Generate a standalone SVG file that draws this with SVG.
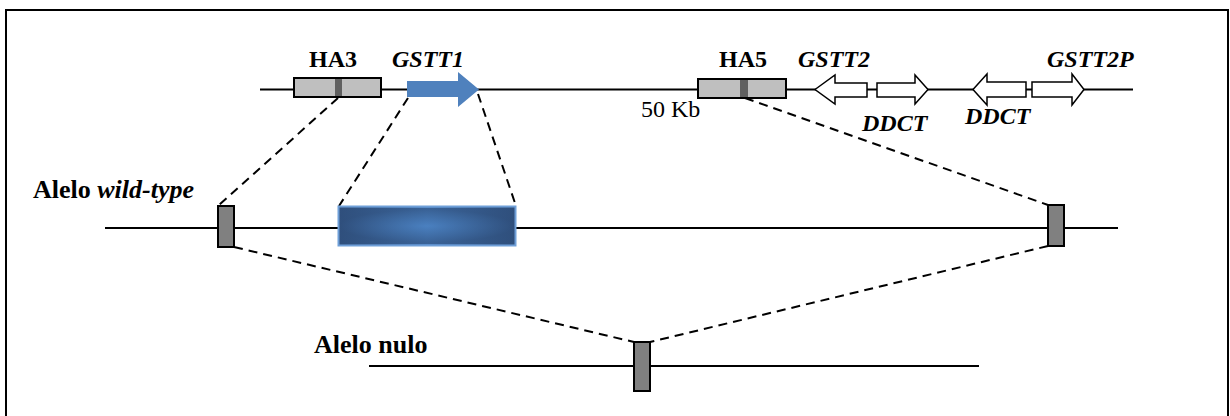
<svg xmlns="http://www.w3.org/2000/svg" width="1230" height="416" viewBox="0 0 1230 416">
<style>
.ln{stroke:#000;stroke-width:2;fill:none}
.dash{stroke:#000;stroke-width:2;fill:none;stroke-dasharray:9 6}
.ha{fill:#bfbfbf;stroke:#000;stroke-width:2}
.band{fill:#606060}
.sm{fill:#808080;stroke:#000;stroke-width:2}
.wa{fill:#fff;stroke:#000;stroke-width:1.5}
.lb{font-family:"Liberation Serif",serif;font-weight:bold;font-size:24px}
.it{font-style:italic}
.rg{font-family:"Liberation Serif",serif;font-size:24px}
.al{font-family:"Liberation Serif",serif;font-weight:bold;font-size:26px}
</style>
<defs>
<radialGradient id="bg" cx="0.5" cy="0.5" r="0.5" gradientTransform="translate(0.5 0.5) scale(1 0.9) translate(-0.5 -0.5)">
<stop offset="0" stop-color="#4a80c0"/>
<stop offset="1" stop-color="#2f4f7c"/>
</radialGradient>
<linearGradient id="bgx" x1="0" y1="0" x2="1" y2="0">
<stop offset="0" stop-color="#2f4f7c"/>
<stop offset="0.5" stop-color="#4a80c0"/>
<stop offset="1" stop-color="#2f4f7c"/>
</linearGradient>
</defs>
<rect x="6" y="10" width="1222" height="430" fill="#fff" stroke="#000" stroke-width="2"/>
<g id="connectors">
<line class="ln" x1="260" y1="89.5" x2="1133" y2="89.5"/>
<line class="ln" x1="105" y1="228" x2="1118" y2="228"/>
<line class="ln" x1="369" y1="366" x2="979" y2="366"/>
<line class="dash" x1="338" y1="98" x2="218" y2="206"/>
<line class="dash" x1="408" y1="98" x2="339" y2="206"/>
<line class="dash" x1="478" y1="94" x2="516" y2="206"/>
<line class="dash" x1="745" y1="98" x2="1048" y2="205"/>
<line class="dash" x1="234" y1="247" x2="634" y2="342"/>
<line class="dash" x1="1048" y1="246" x2="650" y2="342"/>
</g>
<g id="HA3">
<rect class="ha" x="294" y="78" width="87" height="19"/>
<rect class="band" x="335" y="79" width="7" height="17"/>
<text class="lb" x="309" y="67">HA3</text>
</g>
<g id="GSTT1">
<polygon points="407,81 458,81 458,72 479,89.5 458,107 458,97 407,97" fill="#4f81bd"/>
<text class="lb it" x="392" y="67">GSTT1</text>
</g>
<g id="HA5">
<rect class="ha" x="698" y="79" width="88" height="19"/>
<rect class="band" x="740" y="80" width="8" height="17"/>
<text class="lb" x="719" y="67">HA5</text>
<text class="rg" x="641" y="117">50 Kb</text>
</g>
<g id="GSTT2">
<polygon class="wa" points="815,89.5 835,75 835,83 867,83 867,97 835,97 835,104"/>
<text class="lb it" x="798" y="67">GSTT2</text>
</g>
<g id="DDCT1">
<polygon class="wa" points="877,83 915,83 915,75 928,89.5 915,104 915,97 877,97"/>
<text class="lb it" x="862" y="131">DDCT</text>
</g>
<g id="DDCT2">
<polygon class="wa" points="973,89.5 987,74 987,82 1026,82 1026,97 987,97 987,105"/>
<text class="lb it" x="965" y="124">DDCT</text>
</g>
<g id="GSTT2P">
<polygon class="wa" points="1032,82 1072,82 1072,74 1084,89.5 1072,105 1072,97 1032,97"/>
<text class="lb it" x="1047" y="67">GSTT2P</text>
</g>
<g id="wildtype">
<text class="al" x="33" y="198">Alelo <tspan class="it">wild-type</tspan></text>
<rect class="sm" x="218" y="206" width="16" height="41"/>
<rect x="338.5" y="206.5" width="177" height="39" fill="url(#bgx)" stroke="#6f9fd8" stroke-width="2"/>
<rect x="340" y="208" width="174" height="36" fill="url(#bg)" opacity="0.6"/>
<rect class="sm" x="1048" y="205" width="16" height="41"/>
</g>
<g id="nulo">
<text class="al" x="314" y="353">Alelo nulo</text>
<rect class="sm" x="634" y="342" width="16" height="49"/>
</g>
</svg>
